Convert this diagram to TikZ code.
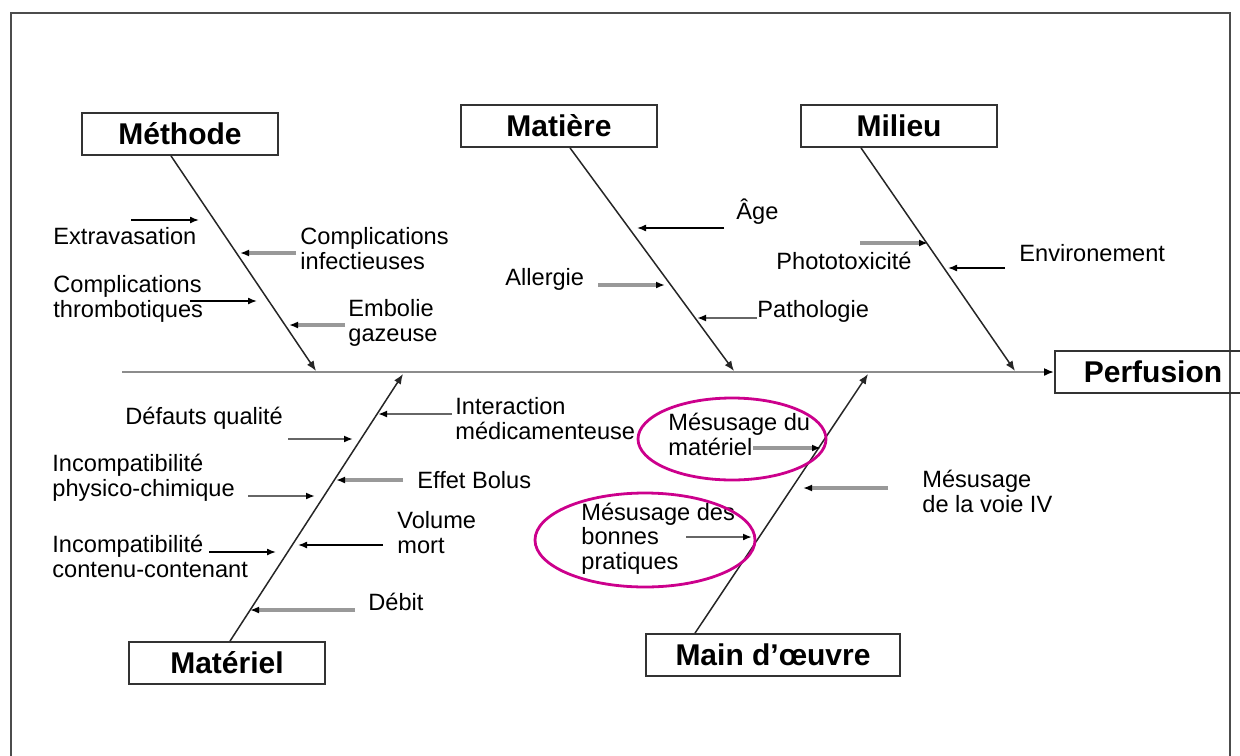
\documentclass[tikz,border=0pt]{standalone}
\usepackage{fontspec}
\setmainfont{Liberation Sans}
\usetikzlibrary{arrows.meta,positioning}

\definecolor{rosebord}{RGB}{204,0,140}

\begin{document}
\begin{tikzpicture}[x=0.5pt,y=-0.5pt,
  cat/.style={draw=black!80,line width=0.9pt,minimum width=98pt,minimum height=21pt,
    inner sep=0pt,font=\fontsize{15}{18}\selectfont\bfseries},
  lbl/.style={anchor=base west,align=left,inner sep=0pt,font=\fontsize{11.8}{12.2}\selectfont},
  bone/.style={draw=black!85,line width=0.75pt,-{Latex[length=5pt,width=4pt]}},
  blk/.style={draw=black,line width=0.75pt,-{Latex[length=4.5pt,width=3.5pt]}},
  dgr/.style={draw=black!60,line width=1.1pt,-{Latex[length=4.5pt,width=3.5pt,color=black]}},
  gry/.style={draw=black!40,line width=1.6pt,-{Latex[length=4.5pt,width=3.5pt,color=black]}},
  hl/.style={draw=rosebord,line width=1.4pt}]
  \useasboundingbox (0,0) rectangle (1240,755);

  % cadre
  \draw[black!70,line width=1.4pt] (11,760) -- (11,13) -- (1230,13) -- (1230,760);

  % categories
  \node[cat] (meth) at (180,134) {Méthode};
  \node[cat] (mat) at (559,126) {Matière};
  \node[cat] (mil) at (899,126) {Milieu};
  \node[cat] (mtl) at (227,663) {Matériel};
  \node[cat,minimum width=127pt] (mo) at (773,655) {Main d’œuvre};
  \node[cat] (perf) at (1153,372) {Perfusion};

  % arete centrale
  \coordinate (tail) at (122,372);
  \draw[black!45,line width=1.2pt,-{Latex[length=5pt,width=4pt,color=black]}] (tail) -- (perf.west);

  % aretes
  \coordinate (hMeth) at (316,371);
  \coordinate (hMat) at (734,371);
  \coordinate (hMil) at (1015,371);
  \coordinate (hMtl) at (403,374);
  \coordinate (hMo) at (868,374);
  \draw[bone] ([xshift=-4.5pt]meth.south) -- (hMeth);
  \draw[bone] ([xshift=5.5pt]mat.south) -- (hMat);
  \draw[bone] ([xshift=-19pt]mil.south) -- (hMil);
  \draw[bone] ([xshift=1.5pt]mtl.north) -- (hMtl);
  \draw[bone] ([xshift=-39pt]mo.north) -- (hMo);

  % causes
  \foreach \nm/\a/\b/\y/\s in {ext/131/199/220/blk, cinf/296/240/253/gry,
      cthr/190/257/301/blk, emb/345/289/325/gry,
      age/724/637/228/blk, all/598/665/285/gry, path/757/697/318/dgr,
      phot/860/928/243/gry, env/1005/948/268/blk,
      def/288/353/439/dgr, inter/452/378/414/dgr, phys/248/315/496/dgr,
      bol/403/336/480/gry, vol/383/298/545/blk, cont/209/276/552/blk,
      deb/355/250/610/gry,
      mmat/753/821/448/gry, mbp/686/752/537/dgr, miv/888/803/488/gry}
    \draw[\s] (\a,\y) coordinate (\nm-t) -- (\b,\y) coordinate (\nm-h);

  % textes (base de la derniere ligne)
  \node[lbl] (l-ext) at (53,244) {Extravasation};
  \node[lbl] (l-cinf) at (300,269) {Complications\\infectieuses};
  \node[lbl] (l-cthr) at (53,317) {Complications\\thrombotiques};
  \node[lbl] (l-emb) at (348,341) {Embolie\\gazeuse};
  \node[lbl] (l-age) at (736,219) {Âge};
  \node[lbl] (l-all) at (505,285) {Allergie};
  \node[lbl] (l-path) at (757,317) {Pathologie};
  \node[lbl] (l-phot) at (776,269) {Phototoxicité};
  \node[lbl] (l-env) at (1019,261) {Environement};
  \node[lbl] (l-def) at (125,424) {Défauts qualité};
  \node[lbl] (l-inter) at (455,439) {Interaction\\médicamenteuse};
  \node[lbl] (l-phys) at (52,496) {Incompatibilité\\physico-chimique};
  \node[lbl] (l-bol) at (417,488) {Effet Bolus};
  \node[lbl] (l-vol) at (397,553) {Volume\\mort};
  \node[lbl] (l-cont) at (52,577) {Incompatibilité\\contenu-contenant};
  \node[lbl] (l-deb) at (368,610) {Débit};
  \node[lbl] (l-mmat) at (668,455) {Mésusage du\\matériel};
  \node[lbl] (l-mbp) at (581,569) {Mésusage des\\bonnes\\pratiques};
  \node[lbl] (l-miv) at (922,512) {Mésusage\\de la voie IV};

  % mises en evidence
  \draw[hl] (732,439) ellipse [x radius=47pt,y radius=20.5pt];
  \draw[hl] (645,540) ellipse [x radius=55pt,y radius=23.5pt];
\end{tikzpicture}
\end{document}
